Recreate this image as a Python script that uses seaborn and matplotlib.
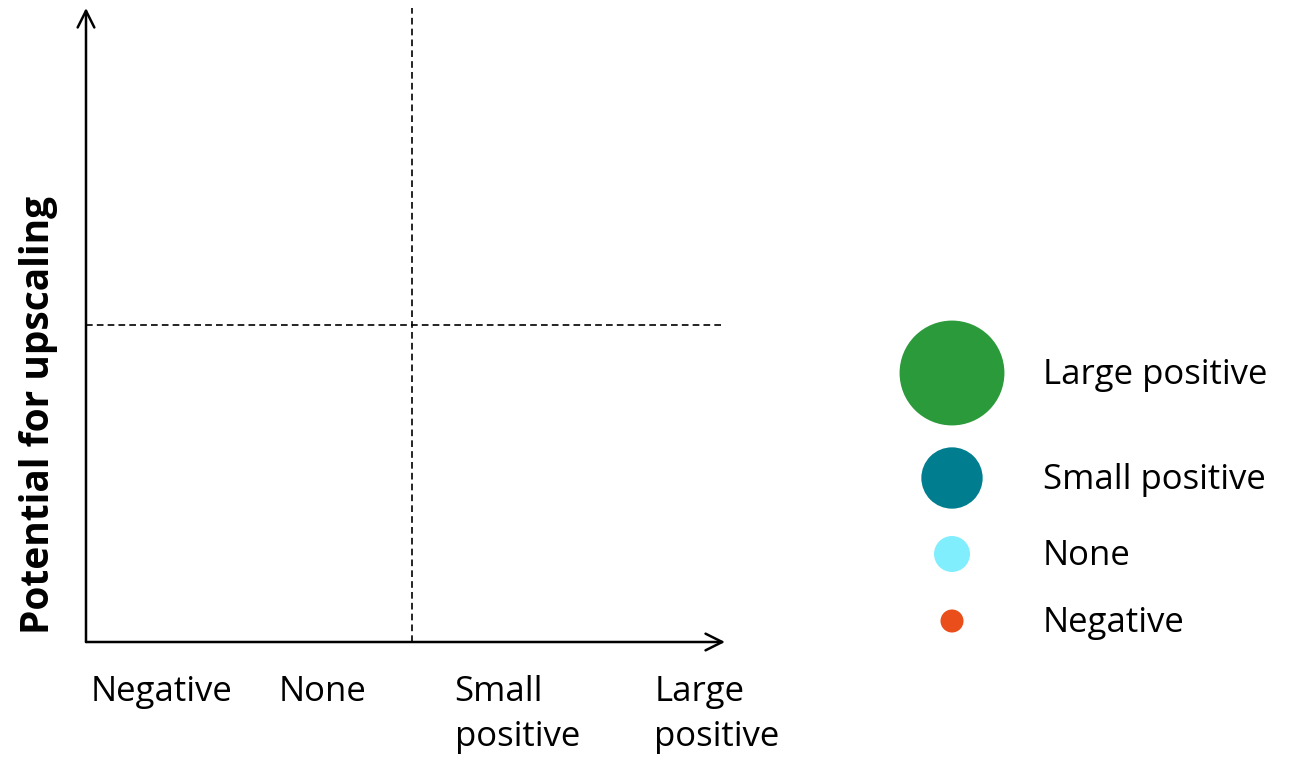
import matplotlib
matplotlib.use('Agg')
import matplotlib.pyplot as plt
import seaborn as sns
import pandas as pd

sns.set_style('white')
plt.rcParams['font.family'] = ['Open Sans', 'DejaVu Sans']
plt.rcParams['text.color'] = 'black'
plt.rcParams['xtick.color'] = 'black'
plt.rcParams['axes.labelcolor'] = 'black'

# categories of impact (x axis) and legend
categories = ['Negative', 'None', 'Small\npositive', 'Large\npositive']
legend_labels = ['Large positive', 'Small positive', 'None', 'Negative']
legend_colors = ['#2b9a3a', '#007d8f', '#80eefc', '#e94e1b']
legend_sizes = [5700, 1950, 670, 275]
ylabel = 'Potential for upscaling'
x_split, y_split = 2.04, 0.5

fig = plt.figure(figsize=(12.97, 7.6), dpi=100)

# main quadrant chart
ax = fig.add_axes([86 / 1297, 118 / 760, 639 / 1297, 634 / 760])
ax.set_xlim(0, 4)
ax.set_ylim(0, 1)
for s in ['top', 'right', 'left', 'bottom']:
    ax.spines[s].set_visible(False)

# axis arrows
arrow = dict(arrowstyle='->', color='black', lw=1.8,
             mutation_scale=30, shrinkA=0, shrinkB=0)
ax.annotate('', xy=(0, 1.0), xytext=(0, 0), xycoords='axes fraction', arrowprops=arrow)
ax.annotate('', xy=(1.0, 0), xytext=(0, 0), xycoords='axes fraction', arrowprops=arrow)

# quadrant dividers
ax.axvline(x_split, color='black', ls=(0, (4, 2.5)), lw=1.2)
ax.axhline(y_split, xmax=0.995, color='black', ls=(0, (4, 2.5)), lw=1.2)

ax.set_xticks([0.475, 1.48, 2.7, 3.95])
ax.set_xticklabels(categories, fontsize=25, linespacing=1.4, va='top')
for lbl in ax.get_xticklabels():
    lbl.set_multialignment('left')
ax.tick_params(axis='x', length=0, pad=24)
ax.set_yticks([])
ax.set_ylabel(ylabel, fontsize=28, fontweight='bold')
ax.yaxis.set_label_coords(-0.044, 0.358)

# legend drawn as its own small scatter
lax = fig.add_axes([0, 0, 1, 1])
lax.set_xlim(0, 1297)
lax.set_ylim(760, 0)
lax.axis('off')
leg = pd.DataFrame({'label': legend_labels, 'color': legend_colors,
                    'size': legend_sizes,
                    'row': [373, 478, 554, 621]})
sns.scatterplot(data=leg, x=[952] * 4, y='row', hue='label',
                palette=dict(zip(legend_labels, legend_colors)),
                size='label', sizes=dict(zip(legend_labels, legend_sizes)),
                linewidth=0, legend=False, ax=lax)
for lab, r in zip(legend_labels, leg['row']):
    lax.text(1043, r + 2, lab, fontsize=25, va='center', ha='left')

fig.savefig('out.png', dpi=100)
